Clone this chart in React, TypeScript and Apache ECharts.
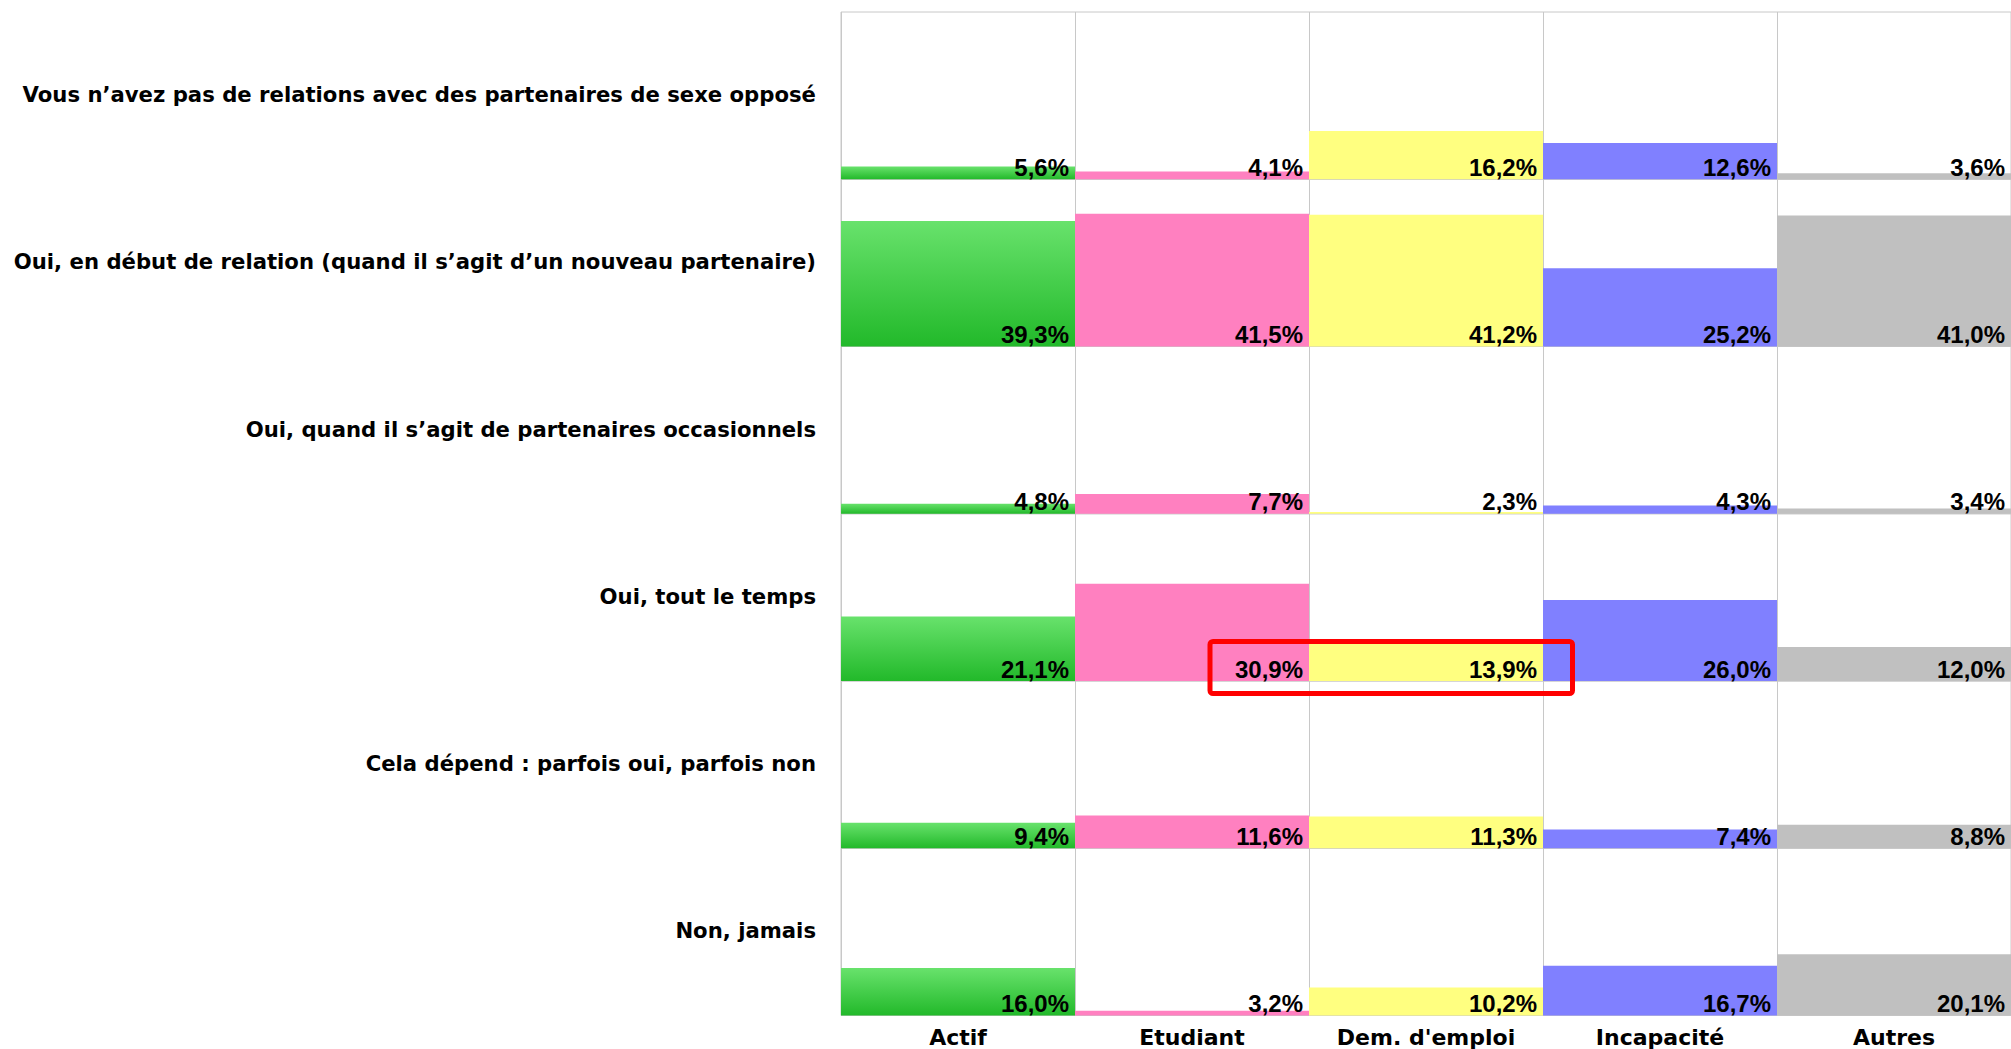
import React, { useEffect, useRef } from "react";
import * as echarts from "echarts";

const categories = ["Actif", "Etudiant", "Dem. d'emploi", "Incapacité", "Autres"];

const rowLabels = [
  "Vous n’avez pas de relations avec des partenaires de sexe opposé",
  "Oui, en début de relation (quand il s’agit d’un nouveau partenaire)",
  "Oui, quand il s’agit de partenaires occasionnels",
  "Oui, tout le temps",
  "Cela dépend : parfois oui, parfois non",
  "Non, jamais",
];

const rowPasDeRelations = [5.6, 4.1, 16.2, 12.6, 3.6];
const rowDebutRelation = [39.3, 41.5, 41.2, 25.2, 41.0];
const rowOccasionnels = [4.8, 7.7, 2.3, 4.3, 3.4];
const rowToutLeTemps = [21.1, 30.9, 13.9, 26.0, 12.0];
const rowCelaDepend = [9.4, 11.6, 11.3, 7.4, 8.8];
const rowNonJamais = [16.0, 3.2, 10.2, 16.7, 20.1];

const rows = [
  rowPasDeRelations,
  rowDebutRelation,
  rowOccasionnels,
  rowToutLeTemps,
  rowCelaDepend,
  rowNonJamais,
];

const GRID_LEFT = 841;
const GRID_WIDTH = 1171;
const GRID_TOP = 12;
const ROW_H = 167.25;
const LINE = "#c8c8c8";

const greenGrad = () =>
  new echarts.graphic.LinearGradient(0, 0, 0, 1, [
    { offset: 0, color: "#68e26c" },
    { offset: 1, color: "#22b92a" },
  ]);

const colColors: any[] = [null, "#ff80c0", "#ffff80", "#8080ff", "#c0c0c0"];

export default function App() {
  const ref = useRef<HTMLDivElement>(null);

  useEffect(() => {
    if (!ref.current) return;
    const chart = echarts.init(ref.current, null, { renderer: "svg" });

    const grids: any[] = [];
    const xAxes: any[] = [];
    const yAxes: any[] = [];
    const series: any[] = [];
    const graphics: any[] = [];

    rows.forEach((vals, i) => {
      const top = GRID_TOP + i * ROW_H;
      grids.push({
        left: GRID_LEFT,
        width: GRID_WIDTH,
        top,
        height: ROW_H,
        show: true,
        borderColor: LINE,
        borderWidth: 1,
        backgroundColor: "transparent",
      });
      xAxes.push({
        type: "category",
        gridIndex: i,
        data: categories,
        boundaryGap: true,
        axisLine: { show: false },
        axisTick: { show: false },
        splitLine: { show: true, interval: 0, lineStyle: { color: LINE, width: 1 } },
        axisLabel: {
          show: i === rows.length - 1,
          interval: 0,
          margin: 11,
          fontFamily: "DejaVu Sans",
          fontWeight: "bold",
          fontSize: 22,
          color: "#000",
        },
      });
      yAxes.push({
        type: "value",
        gridIndex: i,
        min: 1.8,
        max: 51.8,
        show: false,
        splitLine: { show: false },
      });
      series.push({
        type: "bar",
        xAxisIndex: i,
        yAxisIndex: i,
        barWidth: "100%",
        barCategoryGap: "0%",
        clip: true,
        silent: true,
        data: vals.map((v, j) => ({
          value: v,
          itemStyle: { color: j === 0 ? greenGrad() : colColors[j] },
        })),
        label: {
          show: true,
          position: "insideBottomRight",
          distance: 2,
          offset: [-4, 2],
          formatter: (p: any) => p.value.toFixed(1).replace(".", ",") + "%",
          fontFamily: "Liberation Sans",
          fontWeight: "bold",
          fontSize: 24,
          color: "#000",
        },
      });
      graphics.push({
        type: "text",
        x: 816,
        y: top + ROW_H / 2 - 1,
        style: {
          text: rowLabels[i],
          font: 'bold 21.2px "DejaVu Sans"',
          textAlign: "right",
          textVerticalAlign: "middle",
          fill: "#000",
        },
      });
    });

    graphics.push({
      type: "rect",
      shape: { x: 1210, y: 641.5, width: 362.5, height: 52, r: 3 },
      style: { fill: "none", stroke: "#ff0000", lineWidth: 5 },
      z: 100,
    });

    chart.setOption({
      animation: false,
      backgroundColor: "#ffffff",
      grid: grids,
      xAxis: xAxes,
      yAxis: yAxes,
      series,
      graphic: graphics,
    });

    return () => chart.dispose();
  }, []);

  return (
    <div
      ref={ref}
      style={{ position: "absolute", left: 0, top: 0, width: 2011, height: 1049 }}
    />
  );
}
